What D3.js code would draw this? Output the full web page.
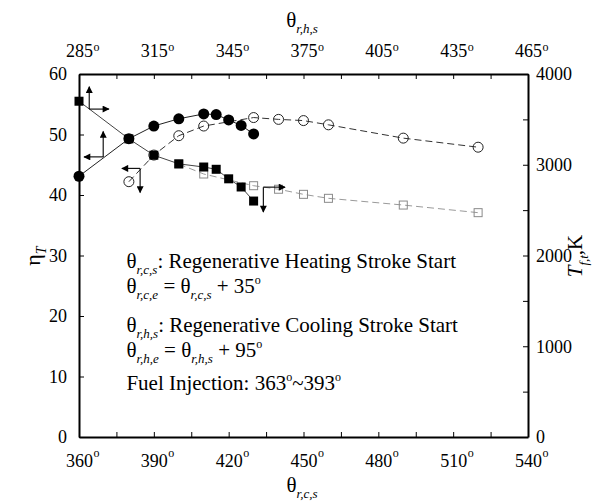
<!DOCTYPE html>
<html>
<head>
<meta charset="utf-8">
<script src="https://cdn.jsdelivr.net/npm/d3@7"></script>
<style>
  body { margin: 0; background: #fff; }
  svg, svg text { font-family: "Liberation Serif", "Tinos", "DejaVu Serif", "Noto Serif", serif; }
</style>
</head>
<body>
<svg id="chart" width="610" height="504"></svg>
<script>
// Regenerative cooling stroke start, θr,h,s (top axis) — filled markers
const coolStart = [285, 305, 315, 325, 335, 340, 345, 350, 355];
const coolEff   = [43.1, 49.3, 51.4, 52.6, 53.4, 53.3, 52.4, 51.5, 50.1];
const coolTemp  = [3700, 3285, 3105, 3010, 2975, 2950, 2845, 2755, 2600];

// Regenerative heating stroke start, θr,c,s (bottom axis) — open markers
const heatStartEff = [380, 390, 400, 410, 430, 440, 450, 460, 490, 520];
const heatEff      = [42.2, 46.6, 49.8, 51.4, 52.8, 52.5, 52.3, 51.6, 49.4, 47.9];
const heatStartTemp = [400, 410, 430, 440, 450, 460, 490, 520];
const heatTemp      = [3008, 2898, 2769, 2730, 2674, 2630, 2556, 2472];

// Axis ticks
const bottomLabels = [360, 390, 420, 450, 480, 510, 540];
const topLabels    = [285, 315, 345, 375, 405, 435, 465];
const leftLabels   = [0, 10, 20, 30, 40, 50, 60];
const rightLabels  = [0, 1000, 2000, 3000, 4000];

// Axis-pointer arrows (corner in θr,c,s / ηT units, each with two directions)
const pointers = [
  { x: 364.1, y: 54.2, ends: [[364.1, 57.9], [372.0, 54.2]] },
  { x: 369.7, y: 46.3, ends: [[369.7, 50.5], [362.0, 46.3]] },
  { x: 384.5, y: 44.4, ends: [[377.2, 44.4], [384.5, 40.4]] },
  { x: 433.9, y: 41.3, ends: [[442.6, 41.3], [433.9, 37.2]] }
];

const FONT = "'Liberation Serif', 'Tinos', 'DejaVu Serif', 'Noto Serif', serif";
const svg = d3.select("#chart").attr("font-family", FONT);
const M = { l: 79, r: 528, t: 74, b: 437 };

const xB = d3.scaleLinear().domain([360, 540]).range([M.l, M.r]);
const xT = d3.scaleLinear().domain([285, 465]).range([M.l, M.r]);
const yL = d3.scaleLinear().domain([0, 60]).range([M.b, M.t]);
const yR = d3.scaleLinear().domain([0, 4000]).range([M.b, M.t]);

const tickFont = 18;

function styleAxis(g) {
  g.attr("font-family", FONT).attr("font-size", tickFont);
  g.select(".domain").attr("stroke", "#000").attr("stroke-width", 2);
  g.selectAll(".tick line").attr("stroke", "#000").attr("stroke-width", 1);
  g.selectAll("text").attr("font-size", tickFont).attr("fill", "#000");
}

// degree mark placed to the right of centred digits
function addDegrees(g) {
  g.selectAll(".tick text").each(function () {
    const t = d3.select(this);
    if (!t.text()) return;
    const w = this.getComputedTextLength();
    const tick = d3.select(this.parentNode);
    tick.append("text")
      .attr("x", w / 2 + 0.5)
      .attr("y", t.attr("y"))
      .attr("dy", t.attr("dy"))
      .attr("font-size", 12)
      .attr("fill", "#000")
      .attr("text-anchor", "start")
      .attr("transform", "translate(0,-6)")
      .text("o");
  });
}

// Bottom axis
const gB = svg.append("g").attr("transform", `translate(0,${M.b})`)
  .call(d3.axisBottom(xB).tickValues(d3.range(360, 541, 15))
    .tickSizeInner(-5).tickSizeOuter(0).tickPadding(17)
    .tickFormat(d => bottomLabels.includes(d) ? d : ""));
styleAxis(gB); addDegrees(gB);

// Top axis
const gT = svg.append("g").attr("transform", `translate(0,${M.t})`)
  .call(d3.axisTop(xT).tickValues(d3.range(285, 466, 15))
    .tickSizeInner(-5).tickSizeOuter(0).tickPadding(17)
    .tickFormat(d => topLabels.includes(d) ? d : ""));
styleAxis(gT); addDegrees(gT);

// Left axis
const gL = svg.append("g").attr("transform", `translate(${M.l},0)`)
  .call(d3.axisLeft(yL).tickValues(leftLabels)
    .tickSizeInner(-5).tickSizeOuter(0).tickPadding(12));
styleAxis(gL);

// Right axis
const gR = svg.append("g").attr("transform", `translate(${M.r},0)`)
  .call(d3.axisRight(yR).tickValues(d3.range(0, 4001, 500))
    .tickSizeInner(-5).tickSizeOuter(0).tickPadding(8)
    .tickFormat(d => rightLabels.includes(d) ? d : ""));
styleAxis(gR);

// Rich text helper: parts = [text, kind] with kind n (normal), b (subscript), p (superscript), i (italic)
function rich(sel, parts, size) {
  const subSize = Math.round(size * 0.62);
  let shift = 0;
  parts.forEach(([s, kind]) => {
    const ts = sel.append("tspan").text(s);
    let target = 0;
    if (kind === "b") { target = size * 0.28; ts.attr("font-size", subSize).attr("font-style", "italic"); }
    else if (kind === "p") { target = -size * 0.42; ts.attr("font-size", Math.round(size * 0.55)); }
    else if (kind === "i") { ts.attr("font-style", "italic"); }
    ts.attr("dy", target - shift);
    shift = target;
  });
}

// Axis titles
const ttl = 21;
rich(svg.append("text").attr("x", 302).attr("y", 27).attr("text-anchor", "middle").attr("font-size", ttl),
  [["θ", "n"], ["r,h,s", "b"]], ttl);
rich(svg.append("text").attr("x", 302).attr("y", 492).attr("text-anchor", "middle").attr("font-size", ttl),
  [["θ", "n"], ["r,c,s", "b"]], ttl);
rich(svg.append("text").attr("transform", "translate(40,256) rotate(-90)").attr("text-anchor", "middle").attr("font-size", 22),
  [["η", "n"], ["T", "b"]], 22);
rich(svg.append("text").attr("transform", "translate(582,256) rotate(-90)").attr("text-anchor", "middle").attr("font-size", ttl),
  [["T", "i"], ["f,t", "b"], [",K", "n"]], ttl);

// Arrow head marker
svg.append("defs").append("marker")
  .attr("id", "head").attr("viewBox", "0 0 10 10")
  .attr("refX", 9).attr("refY", 5)
  .attr("markerWidth", 9).attr("markerHeight", 7)
  .attr("markerUnits", "userSpaceOnUse")
  .attr("orient", "auto")
  .append("path").attr("d", "M0,0 L10,5 L0,10 Z").attr("fill", "#000");

const plot = svg.append("g");

// Series lines
const lineHeatTemp = d3.line().x(d => xB(d[0])).y(d => yR(d[1]));
const lineHeatEff  = d3.line().x(d => xB(d[0])).y(d => yL(d[1]));
const lineCoolTemp = d3.line().x(d => xT(d[0])).y(d => yR(d[1]));
const lineCoolEff  = d3.line().x(d => xT(d[0])).y(d => yL(d[1]));

const htData = d3.zip(heatStartTemp, heatTemp);
const heData = d3.zip(heatStartEff, heatEff);
const ctData = d3.zip(coolStart, coolTemp);
const ceData = d3.zip(coolStart, coolEff);

// open squares: heating stroke start vs flame temperature
plot.append("path").attr("d", lineHeatTemp(htData))
  .attr("fill", "none").attr("stroke", "#9a9a9a").attr("stroke-width", 1).attr("stroke-dasharray", "7,4");
plot.selectAll(".osq").data(htData).join("rect")
  .attr("x", d => xB(d[0]) - 4).attr("y", d => yR(d[1]) - 4)
  .attr("width", 8).attr("height", 8)
  .attr("fill", "none").attr("stroke", "#8a8a8a").attr("stroke-width", 1);

// open circles: heating stroke start vs efficiency
plot.append("path").attr("d", lineHeatEff(heData))
  .attr("fill", "none").attr("stroke", "#333").attr("stroke-width", 1).attr("stroke-dasharray", "7,4");
plot.selectAll(".oci").data(heData).join("circle")
  .attr("cx", d => xB(d[0])).attr("cy", d => yL(d[1])).attr("r", 5)
  .attr("fill", "none").attr("stroke", "#222").attr("stroke-width", 1);

// filled squares: cooling stroke start vs flame temperature
plot.append("path").attr("d", lineCoolTemp(ctData))
  .attr("fill", "none").attr("stroke", "#444").attr("stroke-width", 1);
plot.selectAll(".fsq").data(ctData).join("rect")
  .attr("x", d => xT(d[0]) - 4.5).attr("y", d => yR(d[1]) - 4.5)
  .attr("width", 9).attr("height", 9).attr("fill", "#000");

// filled circles: cooling stroke start vs efficiency
plot.append("path").attr("d", lineCoolEff(ceData))
  .attr("fill", "none").attr("stroke", "#222").attr("stroke-width", 1);
plot.selectAll(".fci").data(ceData).join("circle")
  .attr("cx", d => xT(d[0])).attr("cy", d => yL(d[1])).attr("r", 5.5)
  .attr("fill", "#000");

// axis-pointer arrows
pointers.forEach(p => {
  p.ends.forEach(e => {
    plot.append("line")
      .attr("x1", xB(p.x)).attr("y1", yL(p.y))
      .attr("x2", xB(e[0])).attr("y2", yL(e[1]))
      .attr("stroke", "#000").attr("stroke-width", 1.1)
      .attr("marker-end", "url(#head)");
  });
});

// Annotation block
const fs = 21;
const tx = xB(379);
const notes = svg.append("g").attr("font-size", fs).attr("fill", "#000");
rich(notes.append("text").attr("x", tx).attr("y", 268),
  [["θ", "n"], ["r,c,s", "b"], [": Regenerative Heating Stroke Start", "n"]], fs);
rich(notes.append("text").attr("x", tx).attr("y", 293),
  [["θ", "n"], ["r,c,e", "b"], [" = θ", "n"], ["r,c,s", "b"], [" + 35", "n"], ["o", "p"]], fs);
rich(notes.append("text").attr("x", tx).attr("y", 332),
  [["θ", "n"], ["r,h,s", "b"], [": Regenerative Cooling Stroke Start", "n"]], fs);
rich(notes.append("text").attr("x", tx).attr("y", 357),
  [["θ", "n"], ["r,h,e", "b"], [" = θ", "n"], ["r,h,s", "b"], [" + 95", "n"], ["o", "p"]], fs);
rich(notes.append("text").attr("x", tx).attr("y", 390),
  [["Fuel Injection: 363", "n"], ["o", "p"], ["~393", "n"], ["o", "p"]], fs);
</script>
</body>
</html>
